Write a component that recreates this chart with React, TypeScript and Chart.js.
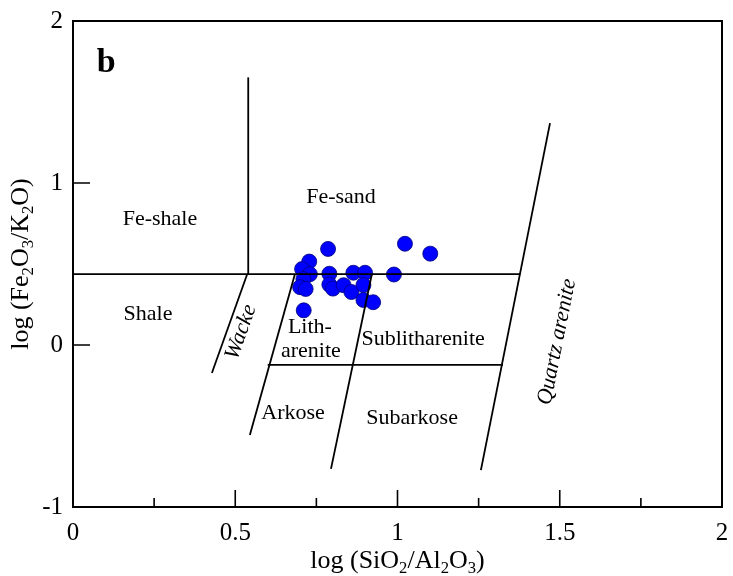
import React, { useEffect, useRef } from "react";
import { Chart, registerables } from "chart.js";

Chart.register(...registerables);

// ---- sample data (log SiO2/Al2O3, log Fe2O3/K2O) ----
const sampleX = [0.786, 0.728, 0.706, 0.730, 0.710, 0.700, 0.717, 0.790, 0.790, 0.801, 0.834, 0.858, 0.864, 0.900, 0.895, 0.895, 0.925, 0.711, 0.989, 1.023, 1.101];
const sampleY = [0.593, 0.515, 0.469, 0.437, 0.407, 0.357, 0.346, 0.440, 0.373, 0.348, 0.369, 0.327, 0.446, 0.446, 0.370, 0.278, 0.264, 0.214, 0.435, 0.625, 0.564];

// ---- classification boundaries (Herron 1988) ----
const feBoundaryX = [0, 1.378];
const feBoundaryY = [0.438, 0.438];
const shaleSandX = [0.540, 0.540];
const shaleSandY = [0.438, 1.652];
const wackeX = [0.428, 0.537];
const wackeY = [-0.173, 0.438];
const arkoseX = [0.545, 0.684];
const arkoseY = [-0.556, 0.438];
const subarkoseX = [0.795, 0.921];
const subarkoseY = [-0.765, 0.438];
const lowerX = [0.600, 1.325];
const lowerY = [-0.123, -0.123];
const quartzX = [1.257, 1.470];
const quartzY = [-0.772, 1.370];

const boundaries = [
  [feBoundaryX, feBoundaryY],
  [shaleSandX, shaleSandY],
  [wackeX, wackeY],
  [arkoseX, arkoseY],
  [subarkoseX, subarkoseY],
  [lowerX, lowerY],
  [quartzX, quartzY],
];

// ---- ticks ----
const xMajorTicks = [0.5, 1, 1.5];
const xMinorTicks = [0.25, 0.75, 1.25, 1.75];
const yMajorTicks = [0, 1];

// ---- field labels ----
const fieldNames = ["Fe-shale", "Shale", "Fe-sand", "Lith-", "arenite", "Sublitharenite", "Arkose", "Subarkose", "Wacke", "Quartz arenite"];
const fieldX = [0.268, 0.231, 0.826, 0.730, 0.733, 1.079, 0.678, 1.045, 0.518, 1.492];
const fieldY = [0.741, 0.154, 0.877, 0.074, -0.074, 0.0, -0.457, -0.488, 0.080, 0.019];
const fieldAngle = [0, 0, 0, 0, 0, 0, 0, 0, -70.5, -78.7];
const fieldItalic = [false, false, false, false, false, false, false, false, true, true];

const panelLabel = "b";
const panelX = 0.102;
const panelY = 1.685;

const xTitle = [
  { t: "log (SiO", s: false },
  { t: "2", s: true },
  { t: "/Al", s: false },
  { t: "2", s: true },
  { t: "O", s: false },
  { t: "3", s: true },
  { t: ")", s: false },
];
const yTitle = [
  { t: "log (Fe", s: false },
  { t: "2", s: true },
  { t: "O", s: false },
  { t: "3", s: true },
  { t: "/K", s: false },
  { t: "2", s: true },
  { t: "O)", s: false },
];

const FONT = '"Liberation Serif", "Times New Roman", serif';

function drawRich(ctx: CanvasRenderingContext2D, parts: { t: string; s: boolean }[], cx: number, baseY: number, size: number) {
  const sub = size * 0.64;
  let w = 0;
  for (const p of parts) {
    ctx.font = `${p.s ? sub : size}px ${FONT}`;
    w += ctx.measureText(p.t).width;
  }
  let x = cx - w / 2;
  ctx.textAlign = "left";
  ctx.textBaseline = "alphabetic";
  for (const p of parts) {
    ctx.font = `${p.s ? sub : size}px ${FONT}`;
    ctx.fillText(p.t, x, p.s ? baseY + size * 0.2 : baseY);
    x += ctx.measureText(p.t).width;
  }
}

const decorPlugin = {
  id: "decor",
  afterDraw(chart: any) {
    const ctx: CanvasRenderingContext2D = chart.ctx;
    const { left, right, top, bottom } = chart.chartArea;
    const xs = chart.scales.x;
    const ys = chart.scales.y;
    ctx.save();
    ctx.strokeStyle = "#000";
    ctx.fillStyle = "#000";
    // frame
    ctx.lineWidth = 2;
    ctx.strokeRect(left, top, right - left, bottom - top);
    // inward ticks
    ctx.lineWidth = 1.6;
    ctx.beginPath();
    for (const v of xMajorTicks) {
      const px = xs.getPixelForValue(v);
      ctx.moveTo(px, bottom);
      ctx.lineTo(px, bottom - 17);
    }
    for (const v of xMinorTicks) {
      const px = xs.getPixelForValue(v);
      ctx.moveTo(px, bottom);
      ctx.lineTo(px, bottom - 9);
    }
    for (const v of yMajorTicks) {
      const py = ys.getPixelForValue(v);
      ctx.moveTo(left, py);
      ctx.lineTo(left + 17, py);
    }
    ctx.stroke();

    // field labels
    for (let i = 0; i < fieldNames.length; i++) {
      const px = xs.getPixelForValue(fieldX[i]);
      const py = ys.getPixelForValue(fieldY[i]);
      ctx.save();
      ctx.translate(px, py);
      ctx.rotate((fieldAngle[i] * Math.PI) / 180);
      ctx.font = `${fieldItalic[i] ? "italic " : ""}22px ${FONT}`;
      ctx.textAlign = "center";
      ctx.textBaseline = fieldAngle[i] !== 0 ? "middle" : "alphabetic";
      ctx.fillText(fieldNames[i], 0, 0);
      ctx.restore();
    }

    // panel label
    ctx.font = `bold 34px ${FONT}`;
    ctx.textAlign = "center";
    ctx.textBaseline = "alphabetic";
    ctx.fillText(panelLabel, xs.getPixelForValue(panelX), ys.getPixelForValue(panelY));

    // axis titles
    drawRich(ctx, xTitle, (left + right) / 2, 568, 26);
    ctx.save();
    ctx.translate(28, (top + bottom) / 2);
    ctx.rotate(-Math.PI / 2);
    drawRich(ctx, yTitle, 0, 0, 26);
    ctx.restore();

    ctx.restore();
  },
};

function zeroPad(s: any) {
  s.paddingLeft = 0;
  s.paddingRight = 0;
  s.paddingTop = 0;
  s.paddingBottom = 0;
}

export default function App() {
  const ref = useRef<HTMLCanvasElement | null>(null);
  useEffect(() => {
    document.body.style.margin = "0";
    const canvas = ref.current;
    if (!canvas) return;
    const lineSets = boundaries.map(([bx, by]) => ({
      data: bx.map((x, i) => ({ x, y: by[i] })),
      showLine: true,
      borderColor: "#000",
      borderWidth: 1.8,
      pointRadius: 0,
      fill: false,
      tension: 0,
      order: 0,
    }));
    const chart = new Chart(canvas, {
      type: "scatter",
      data: {
        datasets: [
          {
            data: sampleX.map((x, i) => ({ x, y: sampleY[i] })),
            pointRadius: 7.5,
            pointHoverRadius: 7.5,
            backgroundColor: "#0000ff",
            borderColor: "#00007a",
            borderWidth: 0.8,
            order: 1,
          } as any,
          ...lineSets,
        ],
      },
      options: {
        responsive: false,
        animation: false,
        devicePixelRatio: 1,
        layout: { padding: { left: 0, top: 21, right: 11, bottom: 0 } },
        plugins: { legend: { display: false }, tooltip: { enabled: false } },
        scales: {
          x: {
            type: "linear",
            min: 0,
            max: 2,
            grid: { display: false },
            border: { display: false },
            ticks: {
              stepSize: 0.5,
              color: "#000",
              padding: 3,
              maxRotation: 0,
              font: { family: FONT, size: 25 },
              callback: (v: any) => String(Number(v)),
            },
            afterFit: (s: any) => {
              s.height = 69;
              zeroPad(s);
            },
          },
          y: {
            type: "linear",
            min: -1,
            max: 2,
            grid: { display: false },
            border: { display: false },
            ticks: {
              stepSize: 1,
              color: "#000",
              padding: 2,
              font: { family: FONT, size: 25 },
              callback: (v: any) => String(Number(v)),
            },
            afterFit: (s: any) => {
              s.width = 73;
              zeroPad(s);
            },
          },
        },
      },
      plugins: [decorPlugin],
    });
    return () => chart.destroy();
  }, []);
  return <canvas ref={ref} width={733} height={576} style={{ display: "block" }} />;
}
